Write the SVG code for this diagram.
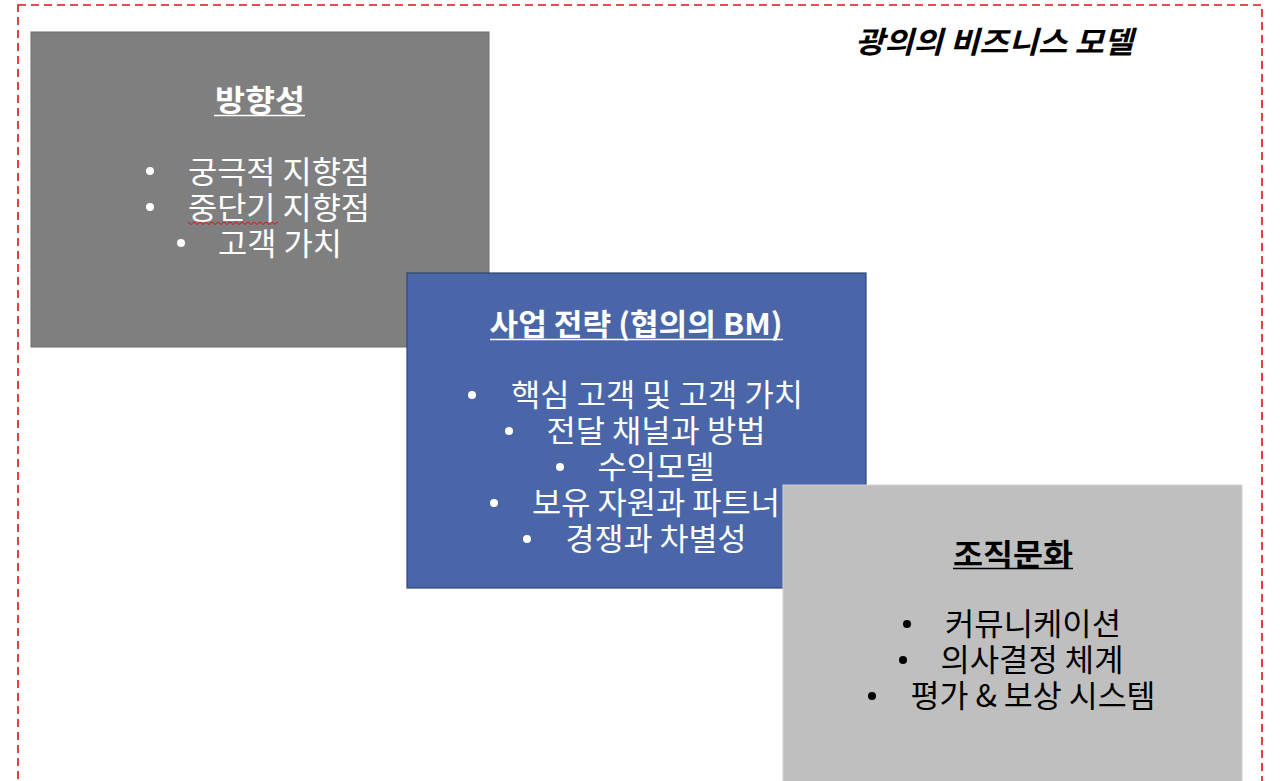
<svg xmlns="http://www.w3.org/2000/svg" width="1280" height="781" viewBox="0 0 1280 781">
<style>
.t{font-family:"Noto Sans CJK KR","Noto Sans",sans-serif;font-size:31px;text-anchor:middle}
.h{font-family:"Noto Sans CJK KR","Noto Sans",sans-serif;font-size:30px;font-weight:bold;text-anchor:middle}
.w{fill:#ffffff}
.k{fill:#000000}
</style>
<rect width="1280" height="781" fill="#ffffff"/>
<rect id="frame" x="18" y="5" width="1244" height="820" fill="none" stroke="#e3101a" stroke-width="1.6" stroke-dasharray="8,5"/>
<text id="title" x="994" y="53" font-family="'Noto Sans CJK KR','Noto Sans',sans-serif" font-size="30" font-weight="bold" font-style="italic" text-anchor="middle" textLength="278" lengthAdjust="spacingAndGlyphs" fill="#000">광의의 비즈니스 모델</text>

<g id="direction">
<rect x="31" y="32" width="458" height="315" fill="#7f7f7f" stroke="#6e6e6e" stroke-width="1"/>
<text class="h w" x="260" y="111" textLength="90" lengthAdjust="spacingAndGlyphs">방향성</text>
<line x1="214" y1="115.5" x2="305" y2="115.5" stroke="#fff" stroke-width="1.5"/>
<circle cx="150" cy="171" r="4" fill="#fff"/>
<text class="t w" x="279" y="183" textLength="182" lengthAdjust="spacingAndGlyphs">궁극적 지향점</text>
<circle cx="150" cy="207" r="4" fill="#fff"/>
<text class="t w" x="279" y="219" textLength="182" lengthAdjust="spacingAndGlyphs">중단기 지향점</text>
<path d="M188,222 l3,2.5 l3,-2.5 l3,2.5 l3,-2.5 l3,2.5 l3,-2.5 l3,2.5 l3,-2.5 l3,2.5 l3,-2.5 l3,2.5 l3,-2.5 l3,2.5 l3,-2.5 l3,2.5 l3,-2.5 l3,2.5 l3,-2.5 l3,2.5 l3,-2.5 l3,2.5 l3,-2.5 l3,2.5 l3,-2.5 l3,2.5 l3,-2.5 l3,2.5 l3,-2.5 l3,2.5 l3,-2.5" fill="none" stroke="#e01010" stroke-width="1"/>
<circle cx="181" cy="243" r="4" fill="#fff"/>
<text class="t w" x="280" y="255" textLength="124" lengthAdjust="spacingAndGlyphs">고객 가치</text>
</g>

<g id="strategy">
<rect x="407" y="273" width="459" height="315" fill="#4a66a8" stroke="#2c4778" stroke-width="1.2"/>
<text class="h w" x="636" y="335" textLength="293" lengthAdjust="spacingAndGlyphs">사업 전략 (협의의 BM)</text>
<line x1="490" y1="339.5" x2="783" y2="339.5" stroke="#fff" stroke-width="1.5"/>
<circle cx="472" cy="395" r="4" fill="#fff"/>
<text class="t w" x="657" y="406" textLength="292" lengthAdjust="spacingAndGlyphs">핵심 고객 및 고객 가치</text>
<circle cx="509" cy="431" r="4" fill="#fff"/>
<text class="t w" x="656" y="442" textLength="219" lengthAdjust="spacingAndGlyphs">전달 채널과 방법</text>
<circle cx="560" cy="467" r="4" fill="#fff"/>
<text class="t w" x="656" y="478" textLength="117" lengthAdjust="spacingAndGlyphs">수익모델</text>
<circle cx="494" cy="503" r="4" fill="#fff"/>
<text class="t w" x="656" y="514" textLength="248" lengthAdjust="spacingAndGlyphs">보유 자원과 파트너</text>
<circle cx="527" cy="539" r="4" fill="#fff"/>
<text class="t w" x="656" y="550" textLength="181" lengthAdjust="spacingAndGlyphs">경쟁과 차별성</text>
</g>

<g id="culture">
<rect x="783" y="485" width="459" height="310" fill="#bfbfbf" stroke="#d2d2d2" stroke-width="1"/>
<text class="h k" x="1013" y="565" textLength="120" lengthAdjust="spacingAndGlyphs">조직문화</text>
<line x1="953" y1="568.5" x2="1073" y2="568.5" stroke="#000" stroke-width="1.5"/>
<circle cx="907" cy="624" r="4" fill="#000"/>
<text class="t k" x="1033" y="635" textLength="176" lengthAdjust="spacingAndGlyphs">커뮤니케이션</text>
<circle cx="903" cy="660" r="4" fill="#000"/>
<text class="t k" x="1032" y="671" textLength="183" lengthAdjust="spacingAndGlyphs">의사결정 체계</text>
<circle cx="872" cy="696" r="4" fill="#000"/>
<text class="t k" x="1033" y="707" textLength="245" lengthAdjust="spacingAndGlyphs">평가 &amp; 보상 시스템</text>
</g>
</svg>
